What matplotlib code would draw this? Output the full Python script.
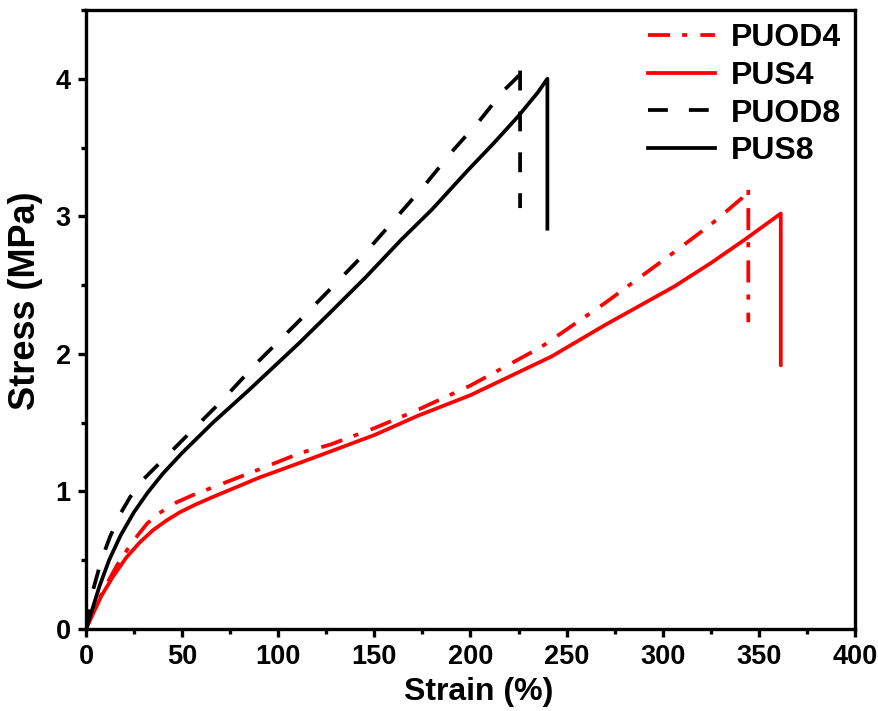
import numpy as np
import matplotlib.pyplot as plt
from matplotlib.ticker import MultipleLocator

# stress-strain curves (strain in %, stress in MPa)
# last points of each series are the vertical drop at break
pus8_strain = [0, 3, 7, 12, 18, 25, 32, 40, 50, 66, 85, 111, 127, 145, 164, 180, 199, 212, 225, 235, 240, 240]
pus8_stress = [0, 0.13, 0.31, 0.5, 0.68, 0.85, 0.99, 1.13, 1.28, 1.50, 1.74, 2.08, 2.30, 2.55, 2.83, 3.05, 3.34, 3.53, 3.73, 3.90, 4.0, 2.91]

puod8_strain = [0, 3.6, 8, 12.5, 18, 23, 30, 38.6, 50, 70, 90, 111.6, 127, 145, 162, 177, 191, 205, 217, 225, 225.8, 225.8]
puod8_stress = [0, 0.28, 0.5, 0.67, 0.84, 0.96, 1.09, 1.21, 1.37, 1.65, 1.95, 2.25, 2.47, 2.73, 3.0, 3.24, 3.48, 3.70, 3.91, 4.02, 4.12, 3.06]

puod4_strain = [0, 3, 9, 16, 24, 32, 39, 47, 55, 66, 90, 111.6, 127, 150, 170.5, 200, 236.8, 270, 306, 325, 341, 344, 344.5, 344.5]
puod4_stress = [0, 0.1, 0.28, 0.46, 0.63, 0.77, 0.85, 0.92, 0.97, 1.03, 1.16, 1.28, 1.34, 1.46, 1.58, 1.77, 2.05, 2.37, 2.74, 2.94, 3.13, 3.20, 3.20, 2.23]

pus4_strain = [0, 4, 8, 14, 21, 28, 35, 42, 49, 57, 66, 78, 90, 111.6, 127, 150, 172.6, 200, 242, 270, 306, 325, 342.6, 361.4, 361.4]
pus4_stress = [0, 0.12, 0.24, 0.38, 0.52, 0.63, 0.72, 0.79, 0.85, 0.905, 0.96, 1.03, 1.10, 1.21, 1.29, 1.41, 1.55, 1.70, 1.98, 2.21, 2.49, 2.66, 2.83, 3.02, 1.92]

plt.rcParams['font.family'] = 'Liberation Sans'
plt.rcParams['font.weight'] = 'bold'

fig = plt.figure(figsize=(8.79, 7.11), dpi=100)
ax = fig.add_axes([0.0978, 0.1153, 0.8749, 0.8707])

lw = 2.7
ax.plot(puod4_strain, puod4_stress, color='red', lw=lw, dashes=(5.9, 3.2, 1.35, 3.5),
        dash_capstyle='butt', label='PUOD4')
ax.plot(pus4_strain, pus4_stress, color='red', lw=lw, label='PUS4')
ax.plot(puod8_strain, puod8_stress, color='black', lw=lw, dashes=(5.3, 5.6),
        dash_capstyle='butt', label='PUOD8')
ax.plot(pus8_strain, pus8_stress, color='black', lw=lw, label='PUS8')

ax.set_xlim(0, 400)
ax.set_ylim(0, 4.5)
ax.xaxis.set_major_locator(MultipleLocator(50))
ax.xaxis.set_minor_locator(MultipleLocator(25))
ax.yaxis.set_major_locator(MultipleLocator(1))
ax.yaxis.set_minor_locator(MultipleLocator(0.5))

for s in ax.spines.values():
    s.set_linewidth(2.4)
ax.tick_params(which='major', direction='out', length=6, width=2.4, labelsize=19.5, pad=5)
ax.tick_params(which='minor', direction='out', length=3.5, width=2.4)

ax.set_xlabel('Strain (%)', fontsize=23, fontweight='bold')
ax.set_ylabel('Stress (MPa)', fontsize=26, fontweight='bold')
ax.xaxis.set_label_coords(0.511, -0.078)
ax.yaxis.set_label_coords(-0.056, 0.53)

ax.legend(loc='upper right', bbox_to_anchor=(1.019, 1.025), frameon=False,
          prop={'size': 23, 'weight': 'bold'}, handlelength=2.1, handletextpad=0.5,
          labelspacing=0.24)

fig.savefig('out.png', dpi=100)
